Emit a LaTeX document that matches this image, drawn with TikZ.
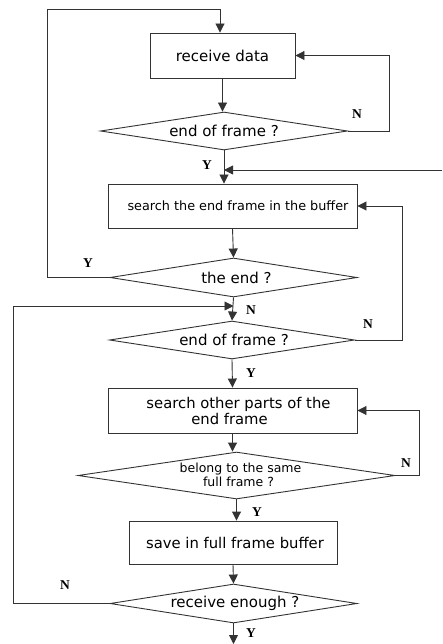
\documentclass[tikz,border=0pt]{standalone}
\usepackage{fontspec}
\setmainfont{DejaVu Sans}
\newfontfamily\lblfont{Liberation Serif}
\usetikzlibrary{shapes.geometric,arrows.meta}
\begin{document}
\begin{tikzpicture}[x=1pt,y=-1pt,
  line width=0.9pt, draw=black!80,
  arr/.style={draw=black!80,-{Triangle[length=9pt,width=9pt]}},
  box/.style={draw=black!80,rectangle,inner sep=0pt,font=\fontsize{15}{17}\selectfont,align=center},
  dia/.style={draw=black!80,diamond,aspect=6.5,inner sep=0pt,font=\fontsize{15}{17}\selectfont,align=center},
  yn/.style={font=\lblfont\bfseries\fontsize{13.5}{14}\selectfont,inner sep=0pt}]
\useasboundingbox (0,0) rectangle (442,644);
\node[box,minimum width=145pt,minimum height=45pt] (rd) at (222.5,55.5) {receive data};
\node[dia,minimum width=247pt,minimum height=38pt] (d1) at (224,131) {end of frame ?};
\node[box,minimum width=249pt,minimum height=44pt,font=\fontsize{12.8}{14}\selectfont] (sb) at (232.5,206) {\hspace*{11pt}search the end frame in the buffer};
\node[dia,minimum width=247pt,minimum height=39pt] (te) at (233.5,277.5) {\hspace*{6pt}the end ?};
\node[dia,minimum width=245pt,minimum height=38pt] (d2) at (232,340) {\hspace*{4pt}end of frame ?};
\node[box,minimum width=249pt,minimum height=45pt,font=\fontsize{14.8}{16}\selectfont] (b3) at (232.5,410.5) {\hspace*{12pt}search other parts of the\\end frame\hspace*{6pt}};
\node[dia,minimum width=317pt,minimum height=47pt,font=\fontsize{12.5}{13.5}\selectfont] (d3) at (236.5,475.5) {\smash{\raisebox{-4pt}{\begin{tabular}{@{}c@{}}\hspace*{8pt}belong to the same\\\hspace*{4pt}full frame ?\end{tabular}}}};
\node[box,minimum width=208pt,minimum height=43pt,font=\fontsize{14.8}{16}\selectfont] (b4) at (233,542.5) {\hspace*{4pt}save in full frame buffer};
\node[dia,minimum width=247pt,minimum height=39pt] (d4) at (233.5,603.5) {\hspace*{3pt}receive enough ?};
\coordinate (topL) at (47,9.5);
\coordinate (inR) at (442,170);
\coordinate (leftL) at (13,306);
\coordinate (endB) at (233.5,644);
% connectors
\draw[arr] (te.west) -| (topL) -| (rd.north -| 220,0);
\draw[arr] (rd.south) -- (rd.south |- d1.north);
\draw[arr] (d1.east) -- ++(41,0) |- (rd.east);
\draw[arr] (d1.south) -- (d1.south |- sb.north);
\draw[arr] (inR) -- (d1.south |- inR);
\draw[arr] (sb.south) -- (te.north);
\draw[arr] (te.south) -- (d2.north);
\draw[arr] (d2.east) -- ++(47,0) |- (sb.east);
\draw[arr] (d2.south) -- (b3.north);
\draw[arr] (b3.south) -- (b3.south |- d3.north);
\draw[arr] (d3.east) -- ++(24,0) |- (b3.east);
\draw[arr] (d3.south) -- (d3.south |- b4.north);
\draw[arr] (b4.south) -- (d4.north);
\draw[arr] (d4.west) -| (leftL) -- (te.south |- leftL);
\draw[arr] (d4.south) -- (endB);
% labels
\node[yn] (l1) at (357,114) {N};
\node[yn] (l2) at (207,165) {Y};
\node[yn] (l3) at (88,263) {Y};
\node[yn] (l4) at (251,310) {N};
\node[yn] (l5) at (368,324) {N};
\node[yn] (l6) at (251,373) {Y};
\node[yn] (l7) at (406,463) {N};
\node[yn] (l8) at (257,512) {Y};
\node[yn] (l9) at (65,585) {N};
\node[yn] (l10) at (251,633) {Y};
\end{tikzpicture}
\end{document}
